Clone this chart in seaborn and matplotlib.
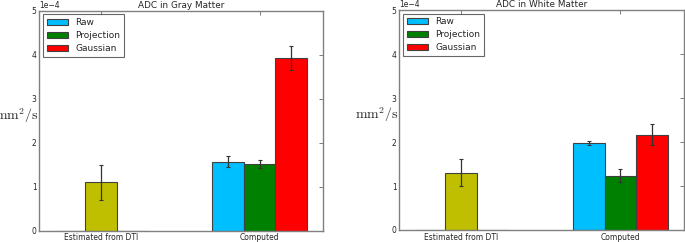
import pandas as pd
import matplotlib
matplotlib.use("Agg")
import matplotlib.pyplot as plt
import seaborn as sns

# Data (units of 1e-4 mm^2/s)
groups = ["Estimated from DTI", "Computed"]
methods = ["Raw", "Projection", "Gaussian"]
colors = ["#00BFFF", "#008000", "#FF0000"]
dti_color = "#BFBF00"

gray_dti, gray_dti_err = 1.10, 0.40
gray_vals = [1.57, 1.51, 3.92]
gray_errs = [0.13, 0.09, 0.27]

white_dti, white_dti_err = 1.30, 0.31
white_vals = [1.98, 1.23, 2.17]
white_errs = [0.045, 0.15, 0.24]

sns.set_style("white")
plt.rcParams["font.family"] = ["DejaVu Sans"]
plt.rcParams["mathtext.fontset"] = "cm"
plt.rcParams["xtick.direction"] = "in"
plt.rcParams["ytick.direction"] = "in"


def make_df(dti, vals):
    rows = []
    for m, v in zip(methods, vals):
        # DTI estimate sits in the middle slot of the first group
        rows.append({"group": groups[0], "method": m, "adc": dti if m == "Projection" else 0.0})
        rows.append({"group": groups[1], "method": m, "adc": v})
    return pd.DataFrame(rows)


def draw(ax, title, dti, dti_err, vals, errs):
    df = make_df(dti, vals)
    sns.barplot(data=df, x="group", y="adc", hue="method", order=groups,
                hue_order=methods, palette=colors, width=0.6, errorbar=None,
                edgecolor="#404040", linewidth=0.8, saturation=1, ax=ax)
    bar_sets = list(ax.containers)
    for i, cont in enumerate(bar_sets):
        bars = list(cont)
        # first group: only the DTI bar gets colour and error
        if methods[i] == "Projection":
            bars[0].set_facecolor(dti_color)
            b = bars[0]
            ax.errorbar(b.get_x() + b.get_width() / 2, b.get_height(), yerr=dti_err,
                        fmt="none", ecolor="#333333", elinewidth=0.9, capsize=1.6, capthick=0.8)
        b = bars[1]
        ax.errorbar(b.get_x() + b.get_width() / 2, b.get_height(), yerr=errs[i],
                    fmt="none", ecolor="#333333", elinewidth=0.9, capsize=1.6, capthick=0.8)

    ax.set_xlim(-0.39, 1.40)
    ax.set_ylim(0, 5)
    ax.set_yticks([0, 1, 2, 3, 4, 5])
    ax.set_yticklabels(["0", "1", "2", "3", "4", "5"])
    ax.text(0.0, 1.005, "1e\u22124", transform=ax.transAxes, fontsize=5.5,
            ha="left", va="bottom")
    ax.set_title(title, fontsize=6.4, pad=2)
    ax.set_xlabel("")
    ax.set_ylabel(r"$\mathrm{mm^2/s}$", fontsize=10, rotation=0, ha="right", va="center")
    ax.yaxis.set_label_coords(-0.003, 0.525)
    ax.tick_params(axis="both", labelsize=5.5, length=3, width=0.6, pad=2,
                   top=True, right=True, color="#666666")
    for s in ax.spines.values():
        s.set_color("#808080")
        s.set_linewidth(1.0)
    leg = ax.legend(loc="upper left", fontsize=6.5, frameon=True, fancybox=False,
                    edgecolor="#404040", handlelength=2.4, handleheight=0.7,
                    labelspacing=0.45, borderpad=0.4, borderaxespad=0.4)
    leg.get_frame().set_linewidth(0.8)
    for h in leg.legend_handles:
        h.set_edgecolor("#404040")


fig = plt.figure(figsize=(6.85, 2.42), dpi=100)
ax1 = fig.add_axes([0.0574, 0.0467, 0.414, 0.909])
ax2 = fig.add_axes([0.583, 0.0496, 0.4156, 0.909])

draw(ax1, "ADC in Gray Matter", gray_dti, gray_dti_err, gray_vals, gray_errs)
draw(ax2, "ADC in White Matter", white_dti, white_dti_err, white_vals, white_errs)

fig.savefig("out.png", dpi=100)
